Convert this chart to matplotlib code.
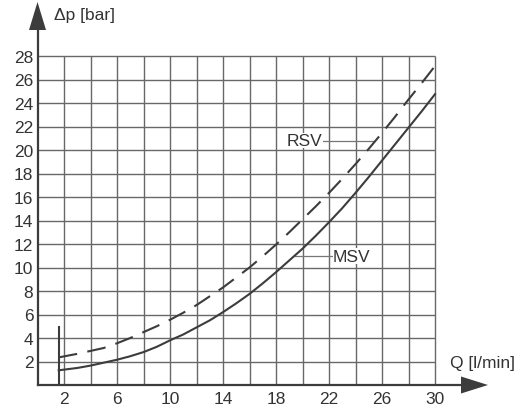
import matplotlib
matplotlib.use("Agg")
import matplotlib.pyplot as plt
from matplotlib.patches import Polygon

# flow Q [l/min] and pressure drop [bar]
q_msv = [1.6, 3, 4, 5, 6, 7, 8, 9, 10, 11, 12, 13, 14, 15, 16, 17, 18,
         19, 20, 21, 22, 23, 24, 25, 26, 27, 28, 29, 30]
msv = [1.25, 1.45, 1.65, 1.9, 2.15, 2.45, 2.8, 3.25, 3.8, 4.3, 4.9, 5.5,
       6.2, 6.95, 7.75, 8.65, 9.6, 10.6, 11.6, 12.7, 13.85, 15.05, 16.35,
       17.7, 19.1, 20.5, 21.9, 23.3, 24.75]
q_rsv = [1.6, 3, 4, 5, 6, 7, 8, 9, 10, 11, 12, 13, 14, 15, 16, 17, 18,
         19, 20, 21, 22, 23, 24, 25, 26, 27, 28, 29, 30]
rsv = [2.35, 2.65, 2.9, 3.15, 3.55, 4.0, 4.5, 5.0, 5.55, 6.15, 6.8, 7.55,
       8.3, 9.15, 10.0, 10.95, 11.95, 13.0, 14.1, 15.2, 16.35, 17.55, 18.8,
       20.1, 21.45, 22.85, 24.3, 25.7, 27.15]

x_ticks = [2, 6, 10, 14, 18, 22, 26, 30]
y_ticks = list(range(2, 30, 2))
x_grid = list(range(2, 32, 2))
y_grid = list(range(2, 30, 2))

plt.rcParams['font.family'] = ['Liberation Sans', 'DejaVu Sans']
ink = '#3c3c3c'
txt = '#333333'
fs = 12.5

W, H = 523, 410
fig = plt.figure(figsize=(W / 100, H / 100), dpi=100)
x0, x1 = 37.5, 488
y0, y1 = 386, 3
sx, sy = 13.25, 11.75  # pixels per data unit
ax = fig.add_axes([x0 / W, 1 - y0 / H, (x1 - x0) / W, (y0 - y1) / H])
xmax = (x1 - x0) / sx
ymax = (y0 - y1) / sy
ax.set_xlim(0, xmax)
ax.set_ylim(0, ymax)

for s in ax.spines.values():
    s.set_visible(False)

# grid
ax.vlines(x_grid, 0, 28, colors='#686868', lw=1.0, zorder=1)
ax.hlines(y_grid, 0, 30, colors='#686868', lw=1.0, zorder=1)

# axes with arrows
ax.plot([0, 0], [0, ymax - 2], color=ink, lw=1.6, clip_on=False, zorder=3)
ax.plot([0, xmax - 2], [0, 0], color=ink, lw=1.6, clip_on=False, zorder=3)
hx, hy = 8.5 / sx, 28 / sy
ax.add_patch(Polygon([(-hx, ymax - hy), (hx, ymax - hy), (0, ymax)],
                     closed=True, facecolor=ink, edgecolor='none',
                     clip_on=False, zorder=3))
vx, vy = 27 / sx, 8.5 / sy
ax.add_patch(Polygon([(xmax - vx, -vy), (xmax - vx, vy), (xmax, 0)],
                     closed=True, facecolor=ink, edgecolor='none',
                     clip_on=False, zorder=3))

# small marker line near Q=1.6
ax.plot([1.6, 1.6], [0, 4.9], color=ink, lw=1.5, zorder=3)

# curves
ax.plot(q_msv, msv, color=ink, lw=1.5, zorder=4)
ax.plot(q_rsv, rsv, color=ink, lw=1.5, dashes=(9, 5), zorder=4)

# labels with leader lines
box = dict(facecolor='white', edgecolor='none', pad=0.3)
ax.plot([21.5, 25.3], [20.8, 20.8], color='#777777', lw=0.9, zorder=2)
ax.text(21.5, 20.8, 'RSV', ha='right', va='center', fontsize=fs, color=txt,
        bbox=box, zorder=5)
ax.plot([19.4, 22.3], [10.95, 10.95], color='#777777', lw=0.9, zorder=2)
ax.text(22.3, 10.95, 'MSV', ha='left', va='center', fontsize=fs, color=txt,
        bbox=box, zorder=5)

# ticks
ax.set_xticks(x_ticks)
ax.set_yticks(y_ticks)
ax.tick_params(length=0, labelsize=fs, labelcolor=txt)
ax.tick_params(axis='y', pad=3)
ax.tick_params(axis='x', pad=4)

# axis titles
ax.text(16 / sx, (y0 - 16) / sy, '\u0394p [bar]', ha='left', va='center',
        fontsize=fs, color=txt, clip_on=False)
ax.text((450 - x0) / sx, (y0 - 364) / sy, 'Q [l/min]', ha='left',
        va='center', fontsize=fs, color=txt, clip_on=False)

fig.savefig('out.png', dpi=100)
